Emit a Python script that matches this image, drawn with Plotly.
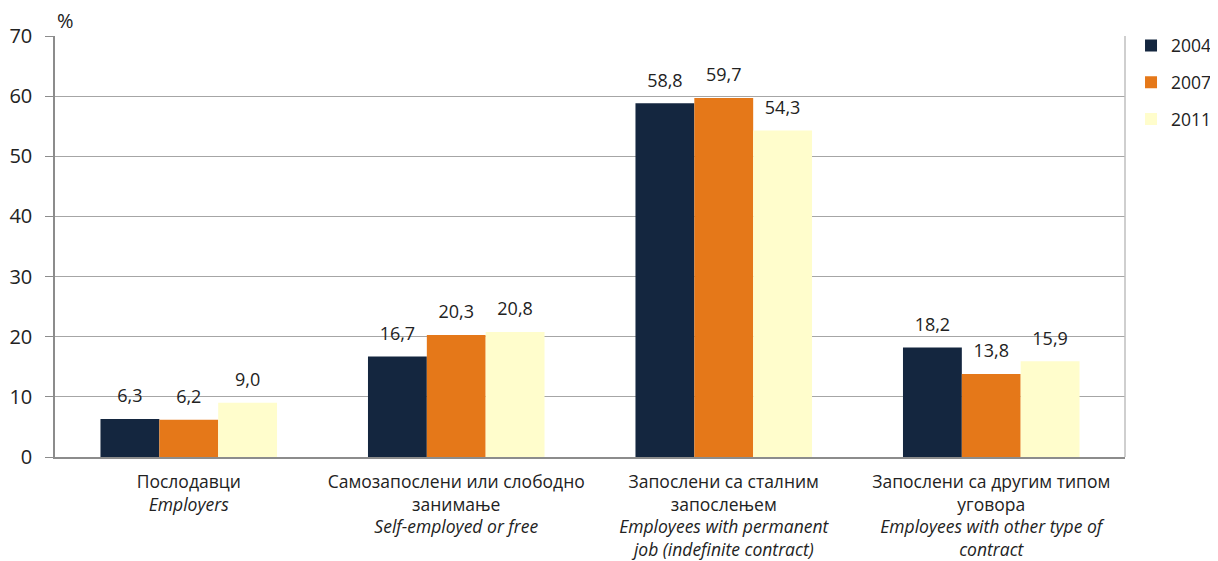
import plotly.graph_objects as go

categories = [
    "Послодавци<br><i>Employers</i>",
    "Самозапослени или слободно<br>занимање<br><i>Self-employed or free</i>",
    "Запослени са сталним<br>запослењем<br><i>Employees with permanent</i><br><i>job (indefinite contract)</i>",
    "Запослени са другим типом<br>уговора<br><i>Employees with other type of</i><br><i>contract</i>",
]
years = ["2004", "2007", "2011"]
values_2004 = [6.3, 16.7, 58.8, 18.2]
values_2007 = [6.2, 20.3, 59.7, 13.8]
values_2011 = [9.0, 20.8, 54.3, 15.9]

colors = ["#14263f", "#e57819", "#fffdcc"]
font_family = "Open Sans, DejaVu Sans, sans-serif"

fig = go.Figure()
for year, vals, col in zip(years, [values_2004, values_2007, values_2011], colors):
    fig.add_trace(go.Bar(
        x=categories, y=vals, name=year, legendgroup=year,
        offsetgroup=year,
        marker=dict(color=col, line=dict(width=0)),
    ))
# value labels, grouped the same way as the bars
for year, vals in zip(years, [values_2004, values_2007, values_2011]):
    fig.add_trace(go.Scatter(
        x=categories, y=vals, mode="markers+text", showlegend=False,
        offsetgroup=year, hoverinfo="skip",
        marker=dict(size=18, opacity=0),
        texttemplate="%{y:.1f}", textposition="top center",
        textfont=dict(size=18, color="#222222"),
        cliponaxis=False,
    ))

fig.update_layout(
    width=1210, height=553,
    barmode="group", bargap=0.34, bargroupgap=0,
    scattermode="group", scattergap=0.34,
    separators=",.",
    plot_bgcolor="white", paper_bgcolor="white",
    font=dict(family=font_family, size=17, color="#222222"),
    margin=dict(l=47, r=93, t=28, b=104, autoexpand=False),
    legend=dict(x=1.086, y=1.02, xanchor="right", yanchor="top",
                font=dict(size=17.5), tracegroupgap=11, itemwidth=30),
    xaxis=dict(showline=True, linecolor="#8c8c8c", linewidth=1.5,
               tickfont=dict(size=17.5), ticks="", automargin=False,
               ticklabelstandoff=8),
    yaxis=dict(range=[0, 70], dtick=10, showgrid=True, gridcolor="#a6a6a6",
               gridwidth=1, showline=True, linecolor="#8c8c8c", linewidth=1.5,
               ticks="outside", ticklen=8, tickcolor="#8c8c8c",
               tickfont=dict(size=20), zeroline=False, automargin=False,
               ticklabelstandoff=9),
    showlegend=True,
)

fig.add_shape(type="line", xref="paper", yref="paper", x0=1, x1=1, y0=0, y1=1,
              line=dict(color="#bfbfbf", width=1.5))
fig.add_annotation(text="%", xref="paper", yref="paper", x=0.0, y=1.0,
                   xanchor="left", yanchor="bottom", xshift=0, showarrow=False,
                   font=dict(size=20))

fig.write_html("out.html")
